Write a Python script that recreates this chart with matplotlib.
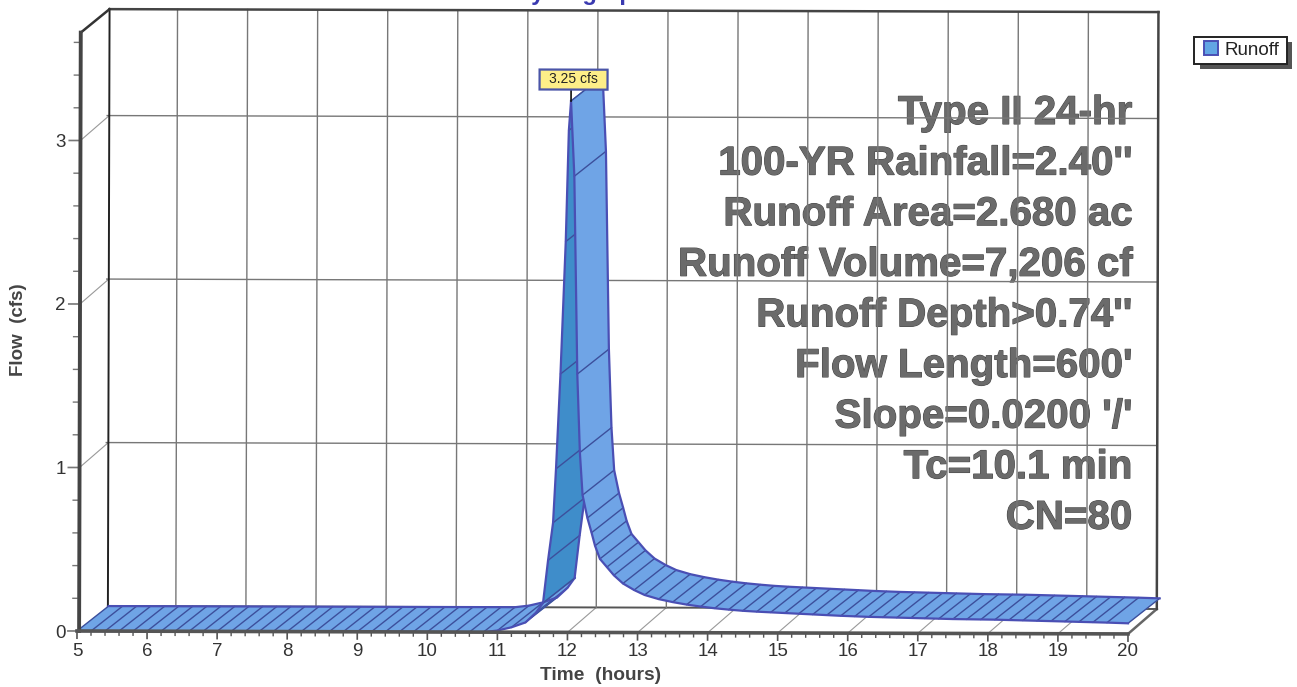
import matplotlib
matplotlib.use("Agg")
import matplotlib.pyplot as plt
import matplotlib.patheffects as pe
from matplotlib.patches import Patch, Rectangle
from matplotlib.transforms import Affine2D
import numpy as np

plt.rcParams['font.family'] = ['Liberation Sans', 'DejaVu Sans']

# flat start + rising limb
rise_time = [5.0, 5.2, 5.4, 5.6, 5.8, 6.0, 6.2, 6.4, 6.6, 6.8, 7.0, 7.2, 7.4, 7.6, 7.8,
             8.0, 8.2, 8.4, 8.6, 8.8, 9.0, 9.2, 9.4, 9.6, 9.8, 10.0, 10.2, 10.4, 10.6, 10.8,
             11.0, 11.2, 11.4, 11.55, 11.65, 11.72, 11.79, 11.83, 11.89, 11.96, 12.0, 12.03]
rise_flow = [0.0, 0.0, 0.0, 0.0, 0.0, 0.0, 0.0, 0.0, 0.0, 0.0, 0.0, 0.0, 0.0, 0.0, 0.0,
             0.0, 0.0, 0.0, 0.0, 0.0, 0.0, 0.0, 0.0, 0.0, 0.0, 0.0, 0.0, 0.0, 0.0, 0.0,
             0.01, 0.03, 0.06, 0.12, 0.18, 0.44, 0.67, 1.0, 1.58, 2.39, 3.07, 3.25]
steep_from = 34  # index where the darker rising face starts

# falling limb
fall_time = [12.03, 12.08, 12.13, 12.17, 12.21, 12.28, 12.34, 12.39, 12.46, 12.56, 12.66, 12.79,
             12.95, 13.1, 13.3, 13.5, 13.7, 13.9, 14.1, 14.3, 14.5, 14.7, 14.9, 15.1, 15.3, 15.5,
             15.7, 15.9, 16.1, 16.3, 16.5, 16.7, 16.9, 17.1, 17.3, 17.5, 17.7, 17.9, 18.1, 18.3,
             18.5, 18.7, 18.9, 19.1, 19.3, 19.5, 19.7, 20.0]
fall_flow = [3.25, 2.79, 1.58, 1.1, 0.84, 0.7, 0.61, 0.53, 0.45, 0.4, 0.35, 0.3,
             0.26, 0.23, 0.205, 0.187, 0.172, 0.16, 0.15, 0.142, 0.135, 0.13, 0.126, 0.122, 0.118, 0.114,
             0.11, 0.106, 0.103, 0.1, 0.098, 0.096, 0.094, 0.092, 0.09, 0.088, 0.087, 0.086, 0.085, 0.083,
             0.081, 0.079, 0.077, 0.075, 0.073, 0.071, 0.069, 0.065]

x_ticks = [5, 6, 7, 8, 9, 10, 11, 12, 13, 14, 15, 16, 17, 18, 19, 20]
y_ticks = [0, 1, 2, 3]
peak_label = "3.25 cfs"
notes = ["Type II 24-hr", "100-YR Rainfall=2.40''", "Runoff Area=2.680 ac", "Runoff Volume=7,206 cf",
         "Runoff Depth>0.74''", "Flow Length=600'", "Slope=0.0200 '/'", "Tc=10.1 min", "CN=80"]

LIGHT = '#6fa4e6'
DARK = '#3f8dca'
EDGE = '#4a4fb4'
HATCH = '#3c4f9c'

WALL_DX = 0.41   # depth of the 3d box in hours
RIBBON_DX = 0.45
DEPTH_DY = 0.153  # depth in cfs
Y_TOP = 3.804
Y_FRONT_TOP = 3.66


def draw_ribbon(ax, tr, times, flows, color, z):
    t = np.array(times)
    q = np.array(flows)
    for i in range(len(t) - 1):
        ax.fill([t[i], t[i + 1], t[i + 1] + RIBBON_DX, t[i] + RIBBON_DX],
                [q[i], q[i + 1], q[i + 1] + DEPTH_DY, q[i] + DEPTH_DY],
                color=color, lw=0.3, transform=tr, clip_on=False, zorder=z)


def draw_edges(ax, tr, times, flows, z):
    t = np.array(times)
    q = np.array(flows)
    for i in range(len(t)):
        ax.plot([t[i], t[i] + RIBBON_DX], [q[i], q[i] + DEPTH_DY], color=HATCH, lw=1.0,
                transform=tr, clip_on=False, zorder=z)
    ax.plot(t, q, color=EDGE, lw=1.6, transform=tr, clip_on=False, zorder=z)
    ax.plot(t + RIBBON_DX, q + DEPTH_DY, color=EDGE, lw=1.6, transform=tr, clip_on=False, zorder=z)


def px_x(x):
    return x / 1297


def px_y(y):
    return 1 - y / 687


def main():
    fig = plt.figure(figsize=(12.97, 6.87), dpi=100)
    ax = fig.add_axes([77 / 1297, (687 - 631) / 687, 1051 / 1297, 595 / 687])
    ax.set_xlim(5, 20)
    ax.set_ylim(0, 595 / 163.5)
    ax.patch.set_visible(False)
    for s in ax.spines.values():
        s.set_visible(False)

    # the scan is a bit rotated
    tr = ax.transData + Affine2D().rotate_deg_around(77, 687 - 631, -0.16)

    def line(xs, ys, color, lw, z=2, **kw):
        ax.plot(xs, ys, color=color, lw=lw, transform=tr, clip_on=False, zorder=z,
                solid_capstyle='projecting', **kw)

    # back wall grid
    for v in x_ticks[1:-1]:
        line([v + WALL_DX, v + WALL_DX], [DEPTH_DY, Y_TOP], '#777777', 1.0, 4)
        line([v, v + WALL_DX], [0, DEPTH_DY], '#999999', 0.8, 1)
    for v in y_ticks[1:]:
        line([5 + WALL_DX, 20 + WALL_DX], [v + DEPTH_DY, v + DEPTH_DY], '#777777', 1.0, 4)
        line([5.03, 5.44], [v, v + DEPTH_DY], '#999999', 0.8, 1)

    # box outline
    line([5.44, 5.44], [DEPTH_DY, Y_TOP], '#222222', 1.4, 4)
    line([20 + WALL_DX, 20 + WALL_DX], [DEPTH_DY, Y_TOP], '#444444', 1.8, 4)
    line([5.44, 20 + WALL_DX], [Y_TOP, Y_TOP], '#444444', 1.8, 4)
    line([5.44, 20 + WALL_DX], [DEPTH_DY, DEPTH_DY], '#555555', 1.4, 2)
    line([5.03, 5.44], [Y_FRONT_TOP, Y_TOP], '#333333', 1.8, 4)
    line([5.03, 5.03], [0, Y_FRONT_TOP], '#444444', 2.8, 6)
    line([5, 20], [0, 0], '#555555', 2.6, 6)
    line([20, 20 + WALL_DX], [0, DEPTH_DY], '#666666', 1.8, 2)

    # ticks
    for v in np.arange(5, 20.01, 0.2):
        major = abs(v - round(v)) < 0.01
        line([v, v], [0, -0.044 if major else -0.025], '#555555', 1.2 if major else 1.0, 3)
    for v in np.arange(0, 3.61, 0.2):
        major = abs(v - round(v)) < 0.01
        line([5, 4.87 if major else 4.94], [v, v], '#777777', 1.2 if major else 1.0, 3)

    ax.set_xticks(x_ticks)
    ax.set_yticks(y_ticks)
    ax.tick_params(length=0, labelsize=13.5, labelcolor='#333333')
    ax.tick_params(axis='x', pad=9)
    ax.tick_params(axis='y', pad=8)
    ax.set_xlabel("Time  (hours)", fontsize=13.8, fontweight='bold', color='#444444')
    ax.xaxis.set_label_coords((601 - 77) / 1051, -(675 - 631) / 595, transform=ax.transAxes)
    ax.xaxis.label.set_va('center')
    ax.set_ylabel("Flow  (cfs)", fontsize=13.5, fontweight='bold', color='#444444')
    ax.yaxis.set_label_coords((19 - 77) / 1051, (631 - 330) / 595, transform=ax.transAxes)
    ax.yaxis.label.set_va('center')

    # big note block, right aligned, scan grid runs over it
    for i, txt in enumerate(notes):
        ax.text(1132, 687 - (124 + i * 50.6), txt, transform=None, ha='right', va='baseline',
                fontsize=29, fontweight='bold', color='#6b6b6b', zorder=3,
                path_effects=[pe.withStroke(linewidth=0.8, foreground='#484848')])

    # ribbon, dark rising face goes under the falling one
    draw_ribbon(ax, tr, rise_time[:steep_from + 1], rise_flow[:steep_from + 1], LIGHT, 5)
    draw_edges(ax, tr, rise_time[:steep_from + 1], rise_flow[:steep_from + 1], 5)
    draw_ribbon(ax, tr, rise_time[steep_from:], rise_flow[steep_from:], DARK, 6.2)
    draw_edges(ax, tr, rise_time[steep_from:], rise_flow[steep_from:], 6.3)
    draw_ribbon(ax, tr, fall_time, fall_flow, LIGHT, 7)
    draw_edges(ax, tr, fall_time, fall_flow, 7.1)

    # peak label
    line([rise_time[-1], rise_time[-1]], [rise_flow[-1], 3.33], '#111111', 1.2, 7.2)
    ax.add_patch(Rectangle((11.58, 3.32), 0.97, 0.122, fc='#fdee88', ec='#4a55a8', lw=1.6,
                           transform=tr, clip_on=False, zorder=8))
    ax.text(12.06, 3.382, peak_label, transform=tr, ha='center', va='center', fontsize=10,
            color='#222222', zorder=9, clip_on=False)

    # title got cut off by the scanner, only the descenders show
    fig.text(582 / 1297, 1.0, "Hydrograph", ha='center', va='baseline', fontsize=17,
             fontweight='bold', color='#3a3ab0')

    # legend box with hard shadow
    fig.add_artist(Rectangle((px_x(1200), px_y(69)), 92 / 1297, 27 / 687, fc='#555555', ec='none',
                             transform=fig.transFigure, zorder=1))
    fig.add_artist(Rectangle((px_x(1194), px_y(64)), 93 / 1297, 27 / 687, fc='white', ec='#222222', lw=1.4,
                             transform=fig.transFigure, zorder=2))
    handle = Patch(facecolor='#62a6e4', edgecolor='#4a4fb4', lw=1.4, label='Runoff')
    fig.legend(handles=[handle], loc='center left', fontsize=13.5, frameon=False,
               bbox_to_anchor=(px_x(1204), px_y(50)), borderaxespad=0, borderpad=0,
               handlelength=0.75, handleheight=0.75, handletextpad=0.37, labelcolor='#222222')

    fig.savefig("out.png", dpi=100, facecolor='white')


if __name__ == "__main__":
    main()
